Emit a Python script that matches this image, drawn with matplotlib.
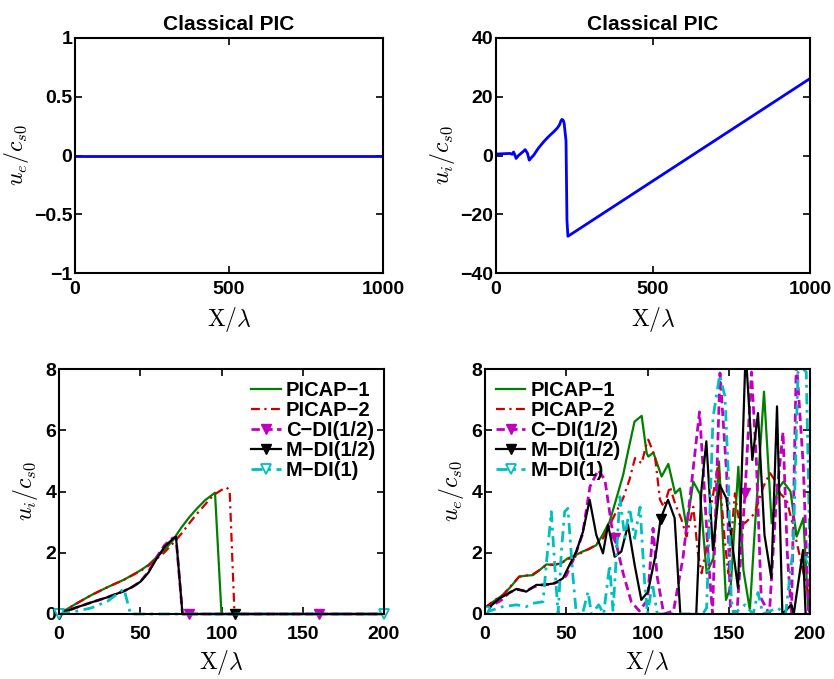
import numpy as np
import matplotlib
matplotlib.use("Agg")
import matplotlib.pyplot as plt
from matplotlib.ticker import FuncFormatter

plt.rcParams['font.family'] = ['Liberation Sans', 'DejaVu Sans']
plt.rcParams['font.weight'] = 'bold'
plt.rcParams['mathtext.fontset'] = 'cm'
plt.rcParams['axes.unicode_minus'] = True

# ---------------- data ----------------
# top-left: electron velocity, classical PIC
tl_x = [0, 1000]
tl_y = [0, 0]

# top-right: ion velocity, classical PIC
tr_x = [0, 3, 20, 45, 52, 56, 60, 64, 70, 77, 85, 93, 100, 106, 112, 120, 135, 152, 168, 183,
        195, 202, 207, 210, 214, 217, 220, 223, 226, 229, 1000]
tr_y = [0.3, 0.5, 0.6, 0.7, 0.4, 1.2, 0.2, -1.0, -0.2, 0.5, 1.2, 2.0, 0.8, -1.6, -0.8, 0.1, 2.5, 4.7,
        6.5, 8.0, 9.3, 10.4, 11.8, 12.3, 12.0, 11.0, 8.0, 5.0, -22.0, -27.5, 26.2]

# bottom-left: ion velocity, new schemes
bl_p1_x = [0, 10, 20, 30, 40, 50, 55, 60, 65, 70, 75, 80, 85, 90, 96, 100, 200]
bl_p1_y = [0, 0.32, 0.62, 0.88, 1.12, 1.42, 1.6, 1.85, 2.1, 2.4, 2.8, 3.15, 3.45, 3.72, 3.96, 0, 0]
bl_p2_x = [0, 10, 20, 30, 40, 50, 55, 60, 65, 70, 75, 80, 85, 90, 95, 100, 103, 105, 108, 200]
bl_p2_y = [0, 0.32, 0.62, 0.88, 1.12, 1.4, 1.58, 1.8, 2.02, 2.3, 2.6, 2.95, 3.28, 3.58, 3.88, 4.05, 4.13,
           4.05, 0, 0]
bl_cdi_x = [0, 10, 20, 30, 40, 45, 50, 55, 60, 65, 70, 72, 76, 80, 160, 200]
bl_cdi_y = [0, 0.2, 0.38, 0.55, 0.75, 0.88, 1.05, 1.38, 1.85, 2.25, 2.48, 2.5, 0, 0, 0, 0]
bl_mdi_x = [0, 10, 20, 30, 40, 45, 50, 55, 60, 65, 70, 72, 76, 108, 200]
bl_mdi_y = [0, 0.2, 0.38, 0.55, 0.75, 0.88, 1.05, 1.35, 1.8, 2.2, 2.45, 2.52, 0, 0, 0]
bl_m1_x = [0, 10, 20, 30, 40, 44, 200]
bl_m1_y = [0, 0.08, 0.2, 0.42, 0.82, 0, 0]

# bottom-right: electron velocity, new schemes
br_p1_x = [0, 5, 11, 16, 21, 25, 29.5, 34, 37.7, 42.9, 47, 51, 55, 60, 64, 68.5, 72, 76.7, 81, 85, 88,
           92, 96.4, 99.5, 100.5, 103.6, 108.7, 112.8, 117, 120, 124, 128.2, 132.3, 136.4, 140.5, 144,
           148.3, 151.2, 155.9, 159, 163, 166, 171.7, 176.4, 180, 183.6, 188, 191.8, 195.9, 199, 200]
br_p1_y = [0.2, 0.4, 0.62, 0.9, 1.22, 1.25, 1.27, 1.45, 1.62, 1.6, 1.66, 1.82, 1.9, 2.04, 2.12, 2.25,
           2.55, 3.02, 3.8, 4.54, 5.3, 6.28, 6.47, 5.25, 5.14, 5.27, 4.49, 4.9, 3.94, 4.1, 2.85, 4.32,
           3.92, 1.33, 1.82, 4.98, 0.46, 0.89, 4.81, 1.44, 0.13, 2.75, 7.26, 2.96, 4.05, 4.32, 4.0, 2.53,
           3.13, 0.13, 0.1]
br_p2_x = [0, 5, 11, 16, 21, 25, 29.5, 34, 38, 43, 47, 51, 54, 60, 66.5, 72.6, 78.8, 85, 89, 92.3, 96.4,
           99.5, 100.5, 104.6, 107.7, 110, 113.8, 117, 121, 124, 128.2, 131, 133.3, 136.4, 139.5, 143.6,
           147.7, 149.7, 153.8, 156.9, 161, 166, 171.3, 175.4, 178, 181.5, 185.6, 189.7, 193.8, 196.9,
           199, 200]
br_p2_y = [0.2, 0.42, 0.62, 0.92, 1.22, 1.25, 1.3, 1.45, 1.6, 1.62, 1.66, 1.8, 1.82, 2.02, 2.2, 2.47,
           3.13, 3.78, 4.4, 5.09, 4.92, 5.58, 5.69, 5.14, 3.73, 3.5, 4.16, 3.6, 3.07, 2.53, 3.5, 2.0,
           1.33, 2.2, 3.62, 4.92, 2.31, 1.33, 3.94, 2.85, 3.02, 3.29, 4.16, 4.6, 4.4, 3.94, 3.73, 2.85,
           1.87, 1.11, 0.68, 0.6]
br_cdi_x = [0, 5, 10, 15, 20, 25, 30, 35, 40, 45, 50, 55, 60, 64.6, 69.7, 73.8, 78, 80, 85, 90, 95, 100,
            103.4, 106, 110, 116, 121.8, 126, 132, 134.4, 137.4, 140, 144.6, 148.7, 151, 155, 160, 164,
            167, 170, 175, 179.3, 183.4, 186, 188.6, 191.6, 195.9, 199, 200]
br_cdi_y = [0.1, 0.3, 0.45, 0.7, 0.8, 0.75, 0.88, 0.95, 0.97, 1.05, 1.25, 1.85, 2.6, 4.16, 4.7, 4.38,
            2.85, 2.47, 1.33, 0.4, 0.1, 0.46, 2.8, 1.2, 0, 0.1, 1.82, 3.73, 6.6, 4.6, 1.87, 0, 7.87, 4.6,
            0.24, 0, 3.94, 7.9, 5.0, 0.5, 0, 3.78, 5.94, 2.0, 0, 8.3, 4.81, 0.2, 0]
br_mdi_x = [0, 9, 19.3, 25.4, 31.6, 35.7, 42.9, 48, 52, 56.2, 60.3, 64.4, 68.5, 72.6, 75.7, 79.8, 83.9,
            88, 92.1, 96.2, 100.3, 105.4, 108, 112.6, 116.7, 120.2, 130, 133.1, 136.2, 140.3, 144.4,
            148.5, 155.7, 160.4, 164.5, 168, 172, 176.2, 179.7, 183, 188.5, 190, 195.7, 197.3, 200]
br_mdi_y = [0.1, 0.51, 0.82, 0.73, 0.95, 0.95, 1.0, 1.17, 1.6, 2.04, 2.69, 3.73, 2.58, 1.98, 2.91, 1.87,
            2.04, 2.91, 1.6, 0.46, 0.73, 2.04, 3.1, 3.73, 3.13, 0, 0, 4.0, 5.64, 2.09, 4.22, 3.78, 0.84,
            8.6, 5.03, 6.56, 2.58, 1.17, 6.78, 0, 0.3, 0, 2.09, 0, 0]
br_m1_x = [0, 11, 19.3, 25.4, 29.5, 35.7, 37.7, 40.8, 42.9, 45, 47, 49, 51, 54.2, 56.2, 60, 63.4, 65.5,
           70, 73, 76.7, 78.8, 83, 86, 89, 92.1, 95.4, 98.2, 100, 103, 106, 134, 136.4, 140.3, 144.4,
           147.7, 149.7, 151.5, 153, 160, 165, 168, 171, 180, 185, 189.7, 192.6, 195.9, 197.7, 200]
br_m1_y = [0.05, 0.24, 0.3, 0.24, 0.35, 0.4, 1.6, 3.34, 1.6, 0, 2.04, 3.34, 3.45, 1.17, 0, 0, 0.73, 0,
           0.3, 0, 1.6, 0.08, 3.83, 2.5, 3.45, 2.47, 3.49, 1.06, 0, 1.0, 0, 0, 0.2, 6.4, 7.8, 7.1, 4.6,
           0.5, 0, 0.3, 0, 0.7, 0, 0.2, 0, 2.2, 7.9, 8.0, 7.9, 1.7]

legend_labels = ['PICAP\u22121', 'PICAP\u22122', 'C\u2212DI(1/2)', 'M\u2212DI(1/2)', 'M\u2212DI(1)']
cdi_mark_x = [0, 80, 160]
mdi_mark_x = [0, 108]
m1_mark_x = [0, 200]

# ---------------- styling helpers ----------------
GREEN = '#008000'
RED = '#cc0000'
MAG = '#c000c0'
CYAN = '#00bfbf'
TICK_FS = 14
LEG_FS = 14.5
LABEL_FS = 17


def fmt(v, pos):
    s = '%g' % v
    return s.replace('-', '\u2212')


def style(ax, xlim, ylim, xticks, yticks, xpad):
    ax.set_xlim(*xlim)
    ax.set_ylim(*ylim)
    ax.set_xticks(xticks)
    ax.set_yticks(yticks)
    ax.xaxis.set_major_formatter(FuncFormatter(fmt))
    ax.yaxis.set_major_formatter(FuncFormatter(fmt))
    ax.tick_params(direction='in', top=True, right=True, length=5, width=1.2,
                   labelsize=TICK_FS)
    ax.tick_params(axis='x', pad=xpad)
    ax.tick_params(axis='y', pad=2)
    for lab in ax.get_xticklabels() + ax.get_yticklabels():
        lab.set_fontweight('bold')
    for sp in ax.spines.values():
        sp.set_linewidth(1.5)


def idx(xs, marks):
    xs = np.asarray(xs, dtype=float)
    return [int(np.argmin(np.abs(xs - m))) for m in marks]


fig = plt.figure(figsize=(8.34, 6.79), dpi=100)
W, H = 834, 679


def axes_px(l, r, t, b):
    return fig.add_axes([l / W, 1 - b / H, (r - l) / W, (b - t) / H])


ax1 = axes_px(75, 383, 38, 273)
ax2 = axes_px(496, 810, 38, 273)
ax3 = axes_px(59, 384, 369, 614)
ax4 = axes_px(485, 810, 369, 614)

# top-left
ax1.plot(tl_x, tl_y, color='#0000ff', lw=2)
style(ax1, (0, 1000), (-1, 1), [0, 500, 1000], [-1, -0.5, 0, 0.5, 1], 6)
ax1.set_title('Classical PIC', fontsize=15, fontweight='bold', pad=6)
ax1.set_ylabel(r'$u_e/c_{s0}$', fontsize=LABEL_FS, labelpad=2)
ax1.set_xlabel(r'$\mathrm{X}/\lambda$', fontsize=LABEL_FS, labelpad=5)

# top-right
ax2.plot(tr_x, tr_y, color='#0000ff', lw=2)
style(ax2, (0, 1000), (-40, 40), [0, 500, 1000], [-40, -20, 0, 20, 40], 6)
ax2.set_title('Classical PIC', fontsize=15, fontweight='bold', pad=6)
ax2.set_ylabel(r'$u_i/c_{s0}$', fontsize=LABEL_FS, labelpad=2)
ax2.set_xlabel(r'$\mathrm{X}/\lambda$', fontsize=LABEL_FS, labelpad=5)


def draw_set(ax, p1, p2, cdi, mdi, m1, lw_thin=1.6, lw_thick=2.0):
    ax.plot(p1[0], p1[1], color=GREEN, lw=lw_thin, label=legend_labels[0])
    ax.plot(p2[0], p2[1], color=RED, lw=lw_thin, ls=(0, (4, 2, 1, 2)), label=legend_labels[1])
    ax.plot(cdi[0], cdi[1], color=MAG, lw=lw_thick, ls=(0, (3, 1.6)), marker='v', ms=7,
            mfc=MAG, mec=MAG, markevery=idx(cdi[0], cdi_mark_x), label=legend_labels[2])
    ax.plot(mdi[0], mdi[1], color='black', lw=lw_thin, marker='v', ms=7, mfc='black', mec='black',
            markevery=idx(mdi[0], mdi_mark_x), label=legend_labels[3])
    ax.plot(m1[0], m1[1], color=CYAN, lw=lw_thick, ls=(0, (4, 2, 1, 2)), marker='v', ms=7,
            mfc='white', mec=CYAN, mew=1.3, markevery=idx(m1[0], m1_mark_x), label=legend_labels[4])


leg_kw = dict(frameon=False, prop={'weight': 'bold', 'size': LEG_FS},
              handlelength=1.45, handletextpad=0.25, labelspacing=0.05, borderaxespad=0.0,
              borderpad=0.4)

draw_set(ax3, (bl_p1_x, bl_p1_y), (bl_p2_x, bl_p2_y), (bl_cdi_x, bl_cdi_y),
         (bl_mdi_x, bl_mdi_y), (bl_m1_x, bl_m1_y))
style(ax3, (0, 200), (0, 8), [0, 50, 100, 150, 200], [0, 2, 4, 6, 8], 8.5)
ax3.set_ylabel(r'$u_i/c_{s0}$', fontsize=LABEL_FS, labelpad=4)
ax3.set_xlabel(r'$\mathrm{X}/\lambda$', fontsize=LABEL_FS, labelpad=4)
for l in ax3.get_lines():
    l.set_clip_on(False)
ax3.legend(loc='upper right', bbox_to_anchor=(1.0, 0.984), **leg_kw)

draw_set(ax4, (br_p1_x, br_p1_y), (br_p2_x, br_p2_y), (br_cdi_x, br_cdi_y),
         (br_mdi_x, br_mdi_y), (br_m1_x, br_m1_y))
style(ax4, (0, 200), (0, 8), [0, 50, 100, 150, 200], [0, 2, 4, 6, 8], 8.5)
ax4.set_ylabel(r'$u_e/c_{s0}$', fontsize=LABEL_FS, labelpad=4)
ax4.set_xlabel(r'$\mathrm{X}/\lambda$', fontsize=LABEL_FS, labelpad=4)
ax4.legend(loc='upper left', bbox_to_anchor=(0.009, 0.984), **leg_kw)

fig.savefig('out.png', dpi=100)
